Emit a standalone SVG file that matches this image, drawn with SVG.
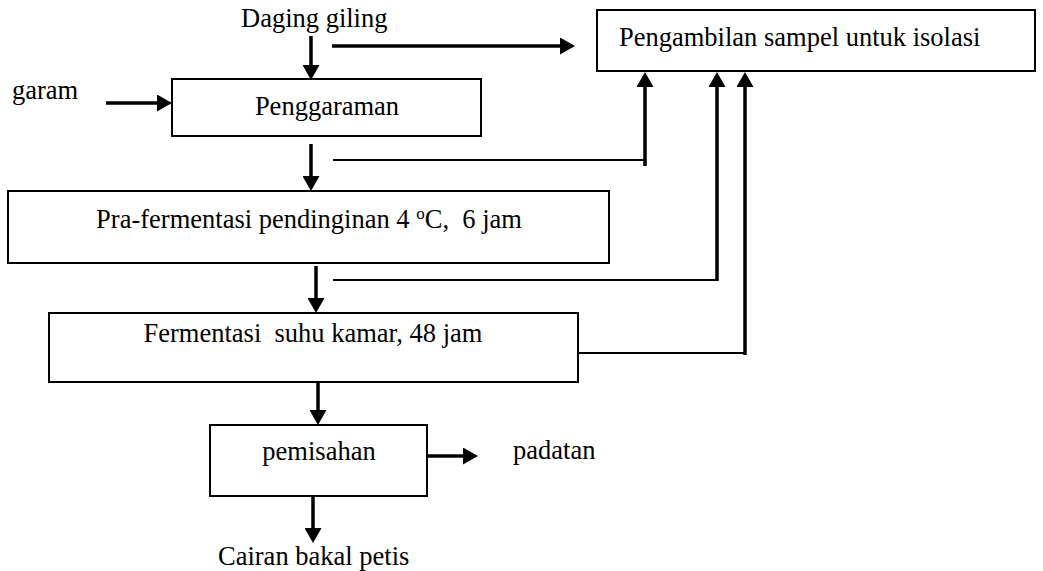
<svg xmlns="http://www.w3.org/2000/svg" width="1043" height="571" viewBox="0 0 1043 571">
<defs>
<marker id="ah" viewBox="0 0 15 17" refX="2" refY="8.5" markerWidth="15" markerHeight="17" orient="auto" markerUnits="userSpaceOnUse">
<path d="M0,0 L15,8.5 L0,17 z" fill="#000"/>
</marker>
</defs>
<style>
.box{fill:#fff;stroke:#000;stroke-width:2}
.t{font-size:26.5px;fill:#000}
.m{text-anchor:middle}
.a{stroke:#000;stroke-width:3.5;fill:none;marker-end:url(#ah)}
.f{stroke:#000;stroke-width:2;fill:none}
</style>
<rect width="1043" height="571" fill="#fff"/>
<g id="connectors">
<line class="a" x1="311" y1="36" x2="311" y2="67"/>
<line class="a" x1="332" y1="46" x2="562" y2="46"/>
<line class="a" x1="106" y1="103" x2="159" y2="103"/>
<line class="a" x1="311" y1="144" x2="311" y2="178"/>
<line class="f" x1="333" y1="160" x2="645" y2="160"/>
<line class="a" x1="645" y1="166" x2="645" y2="85"/>
<line class="a" x1="316" y1="266" x2="316" y2="300"/>
<line class="f" x1="333" y1="280" x2="717" y2="280"/>
<line class="a" x1="717" y1="281" x2="717" y2="85"/>
<line class="f" x1="578" y1="353" x2="745" y2="353"/>
<line class="a" x1="745" y1="355" x2="745" y2="85"/>
<line class="a" x1="318" y1="382" x2="318" y2="412"/>
<line class="a" x1="428" y1="456" x2="465" y2="456"/>
<line class="a" x1="313" y1="496" x2="313" y2="530"/>
</g>
<g font-family="'Liberation Serif', 'Times New Roman', 'DejaVu Serif', serif">
<g id="daging"><text class="t" x="241" y="27">Daging giling</text></g>
<g id="garam"><text class="t" x="12" y="99">garam</text></g>
<g id="pengambilan">
<rect class="box" x="597" y="10" width="438" height="61"/>
<text class="t" x="619" y="46" font-size="27.5">Pengambilan sampel untuk isolasi</text>
</g>
<g id="penggaraman">
<rect class="box" x="172" y="79" width="309" height="57"/>
<text class="t m" x="327" y="115">Penggaraman</text>
</g>
<g id="prafermentasi">
<rect class="box" x="8" y="191" width="601" height="72"/>
<text class="t m" x="309" y="228" xml:space="preserve">Pra-fermentasi pendinginan 4 <tspan font-size="17" dy="-9">o</tspan><tspan dy="9">C,  6 jam</tspan></text>
</g>
<g id="fermentasi">
<rect class="box" x="49" y="313" width="529" height="69"/>
<text class="t m" x="313" y="342" xml:space="preserve">Fermentasi  suhu kamar, 48 jam</text>
</g>
<g id="pemisahan">
<rect class="box" x="210" y="425" width="217" height="71"/>
<text class="t m" x="319" y="460">pemisahan</text>
</g>
<g id="padatan"><text class="t" x="513" y="459">padatan</text></g>
<g id="cairan"><text class="t" x="218" y="565">Cairan bakal petis</text></g>
</g>
</svg>
